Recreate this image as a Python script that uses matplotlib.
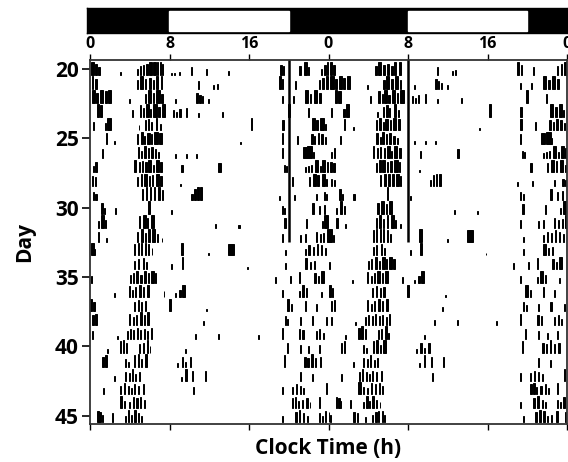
import matplotlib
matplotlib.use("Agg")
import matplotlib.pyplot as plt

plt.rcParams["font.family"] = ["Open Sans", "DejaVu Sans"]

# activity bouts per day: (start hour, duration h, relative height)
days = list(range(20, 47))
bouts = [
    # 20
    [(0.15, 0.25, 1), (0.55, 0.2, 0.9), (0.85, 0.15, 0.6), (3.0, 0.08, 0.2), (4.75, 0.1, 0.5), (5.05, 0.12, 0.7),
     (5.35, 0.12, 0.8), (5.6, 0.2, 0.9), (5.95, 0.3, 1), (6.35, 0.25, 1), (6.7, 0.15, 1), (7.0, 0.12, 1),
     (7.25, 0.1, 0.9), (8.2, 0.08, 0.15), (8.5, 0.08, 0.15), (9.0, 0.08, 0.2), (10.2, 0.1, 0.6), (11.7, 0.08, 0.5),
     (13.9, 0.08, 0.3), (19.15, 0.15, 0.8), (19.45, 0.1, 0.7), (21.0, 0.2, 0.7), (21.5, 0.3, 1), (21.9, 0.1, 0.6),
     (23.2, 0.1, 0.5), (23.55, 0.2, 0.8), (23.85, 0.15, 1)],
    # 21
    [(0.2, 0.15, 1), (0.5, 0.2, 0.8), (4.7, 0.15, 0.7), (5.0, 0.3, 1), (5.5, 0.15, 0.8), (5.9, 0.2, 0.9),
     (6.3, 0.15, 0.7), (6.6, 0.2, 1), (7.1, 0.15, 1), (10.9, 0.1, 0.6), (12.4, 0.08, 0.3), (12.75, 0.1, 0.4),
     (19.0, 0.2, 1), (19.35, 0.12, 0.8), (20.6, 0.12, 0.6), (23.0, 0.12, 0.7), (23.35, 0.15, 0.9), (23.7, 0.25, 1)],
    # 22
    [(0.2, 0.35, 1), (0.65, 0.2, 0.8), (1.05, 0.3, 1), (1.5, 0.2, 0.9), (1.85, 0.3, 1), (3.9, 0.08, 0.3),
     (5.5, 0.15, 0.7), (5.8, 0.3, 1), (6.3, 0.15, 0.8), (6.65, 0.35, 1), (7.15, 0.15, 0.7), (8.6, 0.08, 0.3),
     (10.7, 0.2, 0.8), (11.0, 0.15, 0.6), (11.3, 0.1, 0.5), (11.9, 0.08, 0.3), (19.3, 0.1, 0.5), (20.4, 0.1, 0.5),
     (21.6, 0.3, 1), (22.1, 0.15, 0.7), (22.5, 0.3, 1), (23.0, 0.2, 0.8)],
    # 23
    [(0.7, 0.2, 1), (1.0, 0.25, 0.9), (4.2, 0.08, 0.5), (5.0, 0.15, 0.9), (5.35, 0.12, 0.7), (5.6, 0.3, 1),
     (6.0, 0.15, 0.6), (6.35, 0.35, 1), (6.85, 0.15, 0.8), (7.2, 0.35, 1), (8.4, 0.1, 0.5), (8.7, 0.1, 0.4),
     (9.0, 0.15, 0.6), (9.7, 0.1, 0.7), (10.9, 0.08, 0.3), (13.3, 0.12, 0.4), (19.9, 0.2, 1), (21.9, 0.12, 0.7)],
    # 24
    [(0.3, 0.1, 0.7), (1.5, 0.15, 0.6), (1.75, 0.35, 1), (4.9, 0.08, 0.4), (5.5, 0.12, 0.8), (5.8, 0.15, 0.9),
     (6.1, 0.12, 0.7), (6.6, 0.15, 1), (7.0, 0.1, 0.5), (16.2, 0.12, 1), (19.3, 0.2, 0.8), (22.3, 0.3, 1),
     (22.75, 0.2, 0.8), (23.15, 0.35, 1), (23.6, 0.1, 0.5)],
    # 25
    [(1.6, 0.1, 0.9), (2.45, 0.1, 0.3), (4.75, 0.1, 0.8), (5.1, 0.2, 1), (5.45, 0.1, 0.7), (5.7, 0.3, 0.9),
     (6.15, 0.1, 0.8), (6.45, 0.35, 1), (6.95, 0.25, 0.9), (15.1, 0.1, 0.2), (19.3, 0.15, 0.9), (20.8, 0.1, 0.7),
     (22.2, 0.2, 0.8), (22.55, 0.12, 0.7), (22.9, 0.15, 0.9), (23.25, 0.2, 0.8), (23.65, 0.1, 0.6)],
    # 26
    [(1.2, 0.1, 0.7), (4.8, 0.15, 0.9), (5.15, 0.1, 0.6), (5.4, 0.2, 1), (5.8, 0.12, 0.8), (6.1, 0.2, 0.9),
     (6.5, 0.15, 0.7), (6.85, 0.1, 0.5), (8.6, 0.08, 0.3), (9.7, 0.08, 0.3), (10.7, 0.08, 0.3), (19.3, 0.1, 0.8),
     (21.4, 0.4, 0.9), (21.85, 0.5, 1), (22.4, 0.1, 0.5)],
    # 27
    [(0.3, 0.1, 0.5), (0.55, 0.15, 0.8), (4.45, 0.15, 1), (4.9, 0.1, 0.8), (5.2, 0.12, 0.9), (5.55, 0.15, 0.8),
     (5.85, 0.3, 1), (6.3, 0.12, 0.6), (6.6, 0.3, 1), (7.05, 0.2, 0.8), (9.2, 0.12, 0.6), (12.9, 0.25, 0.7),
     (19.5, 0.1, 0.6), (19.7, 0.1, 0.5), (21.6, 0.1, 0.4), (21.9, 0.1, 0.5), (22.2, 0.12, 0.6), (22.6, 0.3, 1),
     (23.1, 0.1, 0.5), (23.35, 0.3, 1), (23.8, 0.15, 0.8)],
    # 28
    [(0.2, 0.12, 0.8), (0.5, 0.15, 0.7), (4.75, 0.1, 0.7), (5.1, 0.15, 1), (5.4, 0.3, 1), (5.9, 0.1, 0.8),
     (6.2, 0.15, 0.9), (6.6, 0.35, 1), (7.05, 0.15, 0.8), (9.1, 0.08, 0.2), (20.3, 0.15, 0.7), (22.0, 0.12, 0.7),
     (22.4, 0.3, 1), (22.85, 0.15, 0.9), (23.3, 0.3, 1), (23.75, 0.12, 0.6)],
    # 29
    [(0.3, 0.1, 0.6), (0.55, 0.12, 0.5), (5.2, 0.12, 0.9), (5.6, 0.15, 1), (6.0, 0.15, 1), (6.4, 0.15, 1),
     (6.8, 0.25, 1), (7.2, 0.12, 0.8), (10.2, 0.12, 0.5), (10.5, 0.15, 0.9), (10.8, 0.15, 1), (11.1, 0.2, 1),
     (19.0, 0.08, 0.3), (20.5, 0.1, 0.4), (22.7, 0.1, 0.5), (23.5, 0.15, 0.6), (23.75, 0.1, 0.5)],
    # 30
    [(1.1, 0.2, 0.9), (1.4, 0.1, 0.5), (2.5, 0.12, 0.5), (5.85, 0.15, 1), (8.2, 0.08, 0.3), (19.3, 0.12, 0.6),
     (19.55, 0.1, 0.5), (22.3, 0.2, 0.9), (23.0, 0.1, 0.6), (23.5, 0.1, 0.7)],
    # 31
    [(0.8, 0.1, 0.5), (1.15, 0.25, 1), (1.55, 0.1, 0.6), (4.9, 0.15, 0.9), (5.3, 0.3, 1), (5.75, 0.12, 0.8),
     (6.1, 0.3, 1), (12.6, 0.08, 0.3), (14.9, 0.15, 0.2), (19.5, 0.2, 0.8), (21.75, 0.12, 0.7), (23.3, 0.1, 0.5),
     (23.55, 0.35, 1)],
    # 32
    [(0.8, 0.12, 0.8), (1.65, 0.1, 0.3), (4.75, 0.12, 0.8), (5.1, 0.2, 1), (5.5, 0.12, 0.7), (5.85, 0.15, 1),
     (6.25, 0.3, 1), (6.7, 0.1, 0.6), (7.2, 0.08, 0.3), (19.3, 0.1, 0.6), (21.1, 0.1, 0.5), (21.6, 0.12, 0.6),
     (22.7, 0.12, 0.8), (23.1, 0.12, 0.6), (23.45, 0.12, 0.7), (23.8, 0.2, 1)],
    # 33
    [(0.1, 0.3, 1), (0.45, 0.1, 0.5), (4.45, 0.12, 0.9), (4.8, 0.12, 1), (5.15, 0.12, 1), (5.5, 0.12, 1),
     (5.85, 0.1, 0.9), (6.2, 0.08, 0.6), (9.15, 0.25, 1), (11.9, 0.08, 0.2), (13.9, 0.6, 0.9), (19.6, 0.1, 0.4),
     (21.6, 0.1, 0.5), (21.95, 0.15, 0.8), (22.4, 0.12, 0.7), (22.8, 0.12, 0.9), (23.2, 0.12, 0.8), (23.6, 0.1, 0.6)],
    # 34
    [(4.45, 0.1, 0.7), (4.8, 0.12, 0.8), (5.3, 0.12, 0.9), (5.6, 0.1, 0.6), (8.2, 0.1, 0.4), (9.25, 0.12, 1),
     (15.8, 0.08, 0.2), (19.6, 0.1, 0.5), (21.6, 0.25, 0.9), (22.1, 0.12, 0.6), (22.5, 0.12, 0.7)],
    # 35
    [(0.1, 0.1, 0.6), (4.0, 0.1, 0.7), (4.3, 0.12, 0.8), (4.65, 0.2, 1), (5.05, 0.15, 0.7), (5.4, 0.25, 1),
     (5.8, 0.12, 0.8), (6.1, 0.3, 1), (6.5, 0.15, 0.8), (18.6, 0.1, 0.5), (20.1, 0.1, 0.6), (21.0, 0.12, 0.9),
     (22.5, 0.2, 0.8), (22.9, 0.1, 0.6), (23.2, 0.3, 1)],
    # 36
    [(2.4, 0.08, 0.3), (3.9, 0.1, 0.9), (4.25, 0.1, 0.6), (4.55, 0.12, 0.8), (4.9, 0.25, 1), (5.35, 0.12, 0.8),
     (5.7, 0.25, 1), (7.4, 0.08, 0.5), (8.6, 0.08, 0.3), (9.0, 0.2, 0.6), (9.3, 0.3, 1), (19.3, 0.1, 0.6),
     (21.0, 0.1, 0.5), (21.3, 0.25, 1), (21.75, 0.12, 0.7), (23.2, 0.1, 0.4)],
    # 37
    [(0.05, 0.2, 1), (0.35, 0.12, 0.7), (4.4, 0.12, 0.7), (4.8, 0.12, 0.9), (5.15, 0.12, 0.7), (5.5, 0.15, 0.8),
     (7.9, 0.25, 1), (11.7, 0.08, 0.2), (19.8, 0.25, 1), (20.25, 0.1, 0.6), (21.6, 0.1, 0.8), (22.7, 0.1, 0.6)],
    # 38
    [(0.25, 0.12, 0.8), (0.55, 0.15, 0.9), (3.9, 0.12, 0.9), (4.3, 0.1, 0.6), (4.6, 0.12, 0.8), (5.0, 0.2, 1),
     (5.4, 0.12, 0.8), (5.75, 0.2, 1), (11.4, 0.08, 0.3), (19.6, 0.1, 0.7), (19.85, 0.1, 0.5), (21.1, 0.1, 0.6),
     (22.3, 0.15, 0.7), (23.7, 0.1, 0.6)],
    # 39
    [(0.25, 0.1, 0.6), (2.7, 0.08, 0.2), (3.7, 0.1, 0.6), (4.0, 0.12, 0.8), (4.35, 0.1, 0.7), (4.7, 0.12, 0.9),
     (5.05, 0.1, 0.7), (5.4, 0.12, 0.8), (5.75, 0.1, 0.6), (6.1, 0.12, 0.9), (10.6, 0.08, 0.4), (12.9, 0.1, 0.4),
     (16.9, 0.08, 0.3), (19.3, 0.12, 0.9), (21.0, 0.15, 0.8), (21.35, 0.15, 0.7), (22.7, 0.1, 0.6),
     (23.05, 0.12, 0.8), (23.4, 0.1, 0.5)],
    # 40
    [(1.7, 0.08, 0.3), (3.0, 0.12, 0.9), (3.3, 0.15, 1), (3.65, 0.12, 0.8), (4.95, 0.1, 0.7), (5.3, 0.12, 0.8),
     (5.7, 0.15, 1), (6.0, 0.08, 0.5), (9.6, 0.1, 0.3), (19.8, 0.12, 0.8), (21.1, 0.1, 0.6), (21.95, 0.1, 0.5),
     (23.0, 0.1, 0.6)],
    # 41
    [(1.25, 0.15, 0.8), (1.55, 0.15, 0.9), (3.5, 0.1, 0.6), (3.8, 0.08, 0.4), (4.45, 0.12, 0.9), (4.8, 0.15, 1),
     (5.15, 0.1, 0.6), (5.5, 0.25, 1), (8.8, 0.08, 0.3), (9.25, 0.15, 0.8), (9.6, 0.08, 0.4), (10.05, 0.15, 0.8),
     (19.5, 0.12, 0.9), (21.5, 0.2, 0.8), (21.85, 0.15, 0.7), (22.25, 0.15, 1), (22.65, 0.12, 0.7), (23.1, 0.15, 0.8)],
    # 42
    [(2.45, 0.08, 0.4), (3.5, 0.1, 0.7), (3.9, 0.08, 0.6), (4.2, 0.12, 0.9), (4.55, 0.08, 0.5), (4.9, 0.1, 0.7),
     (9.15, 0.08, 0.3), (9.6, 0.15, 0.9), (10.3, 0.1, 0.8), (11.55, 0.12, 0.8), (21.1, 0.1, 0.7), (22.3, 0.1, 0.5)],
    # 43
    [(1.3, 0.1, 0.5), (3.05, 0.08, 0.7), (3.4, 0.12, 0.9), (3.8, 0.1, 0.7), (4.1, 0.08, 0.5), (4.4, 0.12, 0.8),
     (4.8, 0.1, 0.7), (5.3, 0.1, 0.8), (10.4, 0.1, 0.6), (19.3, 0.08, 0.6), (20.3, 0.1, 0.6), (20.7, 0.12, 0.8),
     (21.1, 0.1, 0.7), (21.45, 0.1, 0.5), (23.7, 0.1, 0.9)],
    # 44
    [(3.0, 0.25, 1), (3.45, 0.1, 0.6), (3.9, 0.08, 0.5), (4.3, 0.12, 0.9), (4.65, 0.15, 0.8), (5.05, 0.12, 0.9),
     (5.4, 0.1, 0.7), (20.3, 0.15, 0.8), (20.6, 0.15, 0.9), (20.9, 0.1, 0.6), (21.3, 0.15, 0.7), (21.75, 0.15, 0.8),
     (22.1, 0.08, 0.5), (23.0, 0.1, 0.9)],
    # 45
    [(0.75, 0.12, 0.9), (0.95, 0.2, 0.8), (1.2, 0.1, 0.6), (2.2, 0.08, 0.7), (3.5, 0.08, 0.5), (3.8, 0.15, 1),
     (4.1, 0.1, 0.6), (4.4, 0.2, 1), (4.8, 0.1, 0.7), (5.15, 0.08, 0.5), (19.3, 0.08, 0.5), (20.6, 0.2, 0.8),
     (21.0, 0.15, 1), (21.45, 0.12, 0.7), (21.8, 0.1, 0.5), (23.0, 0.12, 0.7), (23.3, 0.1, 0.5), (23.6, 0.15, 0.9)],
    # 46
    [(0.0, 0.1, 0.8), (0.2, 0.1, 0.6), (2.5, 0.15, 0.8), (2.85, 0.12, 0.7), (3.7, 0.08, 0.4), (4.4, 0.1, 0.6),
     (4.7, 0.15, 0.8), (5.0, 0.12, 0.9), (5.35, 0.15, 0.9), (5.6, 0.08, 0.6), (19.6, 0.08, 0.5), (20.8, 0.15, 0.8),
     (21.2, 0.2, 1), (21.6, 0.15, 0.9), (22.0, 0.1, 0.5), (22.4, 0.12, 0.6), (22.9, 0.15, 0.9), (23.8, 0.12, 0.8)],
]

# light/dark schedule on the double-plotted 48 h axis
light_periods = [(8, 20), (32, 44)]
marker_hours = [20, 32]
marker_last_day = 32
x_ticks = [0, 8, 16, 24, 32, 40, 48]
x_tick_labels = ["0", "8", "16", "0", "8", "16", "0"]
y_ticks = [20, 25, 30, 35, 40, 45]

W, H = 568, 462
fig = plt.figure(figsize=(W / 100, H / 100), dpi=100)

ax = fig.add_axes([90 / W, 1 - 424 / H, 477 / W, 364 / H])
row_h = 0.9
for i, day in enumerate(days[:-1]):
    base = day + 0.45
    # double plot: day d on the left, day d+1 on the right
    for offset, d_idx in ((0, i), (24, i + 1)):
        for start, dur, h in bouts[d_idx]:
            ax.bar(start + offset, h * row_h, width=dur, bottom=base - h * row_h,
                   align="edge", color="black", edgecolor="black", linewidth=0.7)

for xh in marker_hours:
    ax.vlines(xh, 19.3, marker_last_day + 0.45, color="black", linewidth=1.8)

ax.set_xlim(0, 48)
ax.set_ylim(45.58, 19.38)
ax.set_yticks(y_ticks)
ax.set_yticklabels([str(t) for t in y_ticks], fontsize=15, fontweight="bold")
ax.tick_params(axis="y", direction="out", length=6, width=1.2, pad=2)
ax.set_xticks(x_ticks)
ax.xaxis.set_ticks_position("both")
ax.tick_params(axis="x", which="both", top=True, bottom=True, labeltop=True, labelbottom=False,
               direction="out", length=4, width=1, pad=2)
ax.set_xticklabels(x_tick_labels, fontsize=11.5, fontweight="bold")
for side in ("left", "top", "bottom", "right"):
    ax.spines[side].set_linewidth(1.3)
    ax.spines[side].set_color("#333333")
ax.set_ylabel("Day", fontsize=15, fontweight="bold", labelpad=14)
ax.set_xlabel("Clock Time (h)", fontsize=15, fontweight="bold", labelpad=6)

# light/dark bar
lax = fig.add_axes([87 / W, 1 - 33 / H, (W - 87) / W, 25 / H])
lax.set_xlim(-0.3, 48.15)
lax.set_ylim(0, 1)
lax.axvspan(-0.3, 48.15, color="black")
for a, b in light_periods:
    lax.axvspan(a, b, ymin=0.1, ymax=0.9, color="white")
lax.set_xticks([])
lax.set_yticks([])
for side in lax.spines.values():
    side.set_linewidth(1.0)

fig.savefig("out.png", dpi=100)
